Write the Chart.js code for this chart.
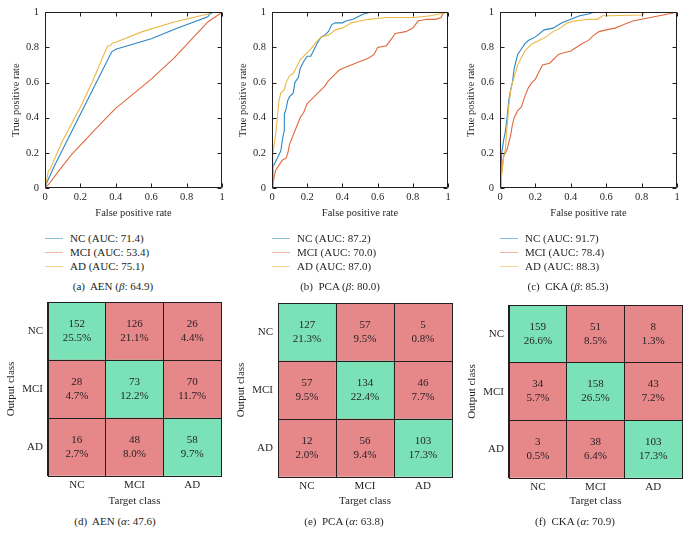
<!DOCTYPE html>
<html>
<head>
<meta charset="utf-8">
<script src="https://cdn.jsdelivr.net/npm/chart.js@4.4.1/dist/chart.umd.min.js"></script>
<style>
body { margin: 0; background: #fff; }
#fig { position: relative; width: 689px; height: 545px; font-family: 'Liberation Serif', serif; color: #231f20; overflow: hidden; }
#fig canvas { position: absolute; }
.cap { position: absolute; width: 200px; text-align: center; font-size: 11px; line-height: 13px; white-space: nowrap; }
.leg { position: absolute; font-size: 11px; line-height: 14px; }
.leg div { position: relative; height: 14px; padding-left: 25px; white-space: nowrap; }
.leg span { position: absolute; left: 0; top: 7px; width: 18px; height: 0; border-top: 1px solid; }
</style>
</head>
<body>
<div id="fig"></div>
<script>

// categories / labels
const classes = ['NC', 'MCI', 'AD'];
const rowTicks = ['', 'AD', 'MCI', 'NC'];
const methods = ['AEN', 'PCA', 'CKA'];
const rocTags = ['(a)', '(b)', '(c)'];
const cmTags = ['(d)', '(e)', '(f)'];
const betaScores = [64.9, 80.0, 85.3];
const alphaScores = [47.6, 63.8, 70.9];

// AUC per class (NC, MCI, AD)
const aenAuc = [71.4, 53.4, 75.1];
const pcaAuc = [87.2, 70.0, 87.0];
const ckaAuc = [91.7, 78.4, 88.3];

// ROC curves, [false positive rate, true positive rate]
const aenNC = [[0,0],[0.01,0.03],[0.05,0.12],[0.15,0.32],[0.27,0.56],[0.377,0.775],[0.40,0.79],[0.60,0.85],[0.75,0.91],[0.92,0.975],[0.93,0.99],[0.95,1],[1,1]];
const aenMCI = [[0,0],[0.02,0.02],[0.08,0.10],[0.15,0.19],[0.28,0.33],[0.40,0.455],[0.42,0.47],[0.60,0.62],[0.73,0.74],[0.85,0.87],[0.92,0.945],[1,1]];
const aenAD = [[0,0],[0.01,0.05],[0.02,0.10],[0.03,0.11],[0.10,0.27],[0.20,0.46],[0.27,0.61],[0.35,0.80],[0.355,0.81],[0.37,0.81],[0.38,0.825],[0.40,0.83],[0.55,0.89],[0.73,0.945],[0.92,0.99],[0.93,1],[1,1]];

const pcaNC = [[0,0],[0.005,0.12],[0.02,0.15],[0.04,0.19],[0.05,0.21],[0.06,0.28],[0.07,0.33],[0.07,0.42],[0.08,0.45],[0.09,0.5],[0.1,0.52],[0.12,0.54],[0.13,0.6],[0.15,0.63],[0.16,0.68],[0.18,0.72],[0.2,0.75],[0.22,0.75],[0.24,0.79],[0.26,0.83],[0.28,0.86],[0.3,0.87],[0.32,0.89],[0.34,0.93],[0.36,0.94],[0.4,0.94],[0.42,0.95],[0.46,0.96],[0.5,0.98],[0.52,0.99],[0.56,1],[0.87,1],[1,1]];
const pcaMCI = [[0,0],[0.01,0.05],[0.02,0.1],[0.04,0.13],[0.06,0.16],[0.08,0.17],[0.09,0.2],[0.1,0.25],[0.12,0.3],[0.14,0.35],[0.16,0.4],[0.18,0.43],[0.2,0.48],[0.22,0.5],[0.25,0.53],[0.28,0.56],[0.3,0.58],[0.32,0.61],[0.35,0.64],[0.38,0.67],[0.4,0.68],[0.45,0.7],[0.5,0.72],[0.55,0.74],[0.58,0.76],[0.6,0.8],[0.65,0.81],[0.68,0.85],[0.7,0.88],[0.76,0.89],[0.8,0.91],[0.83,0.95],[0.88,0.96],[0.93,0.96],[0.96,0.97],[0.97,0.99],[0.98,1],[1,1]];
const pcaAD = [[0,0],[0.005,0.2],[0.02,0.3],[0.03,0.4],[0.04,0.5],[0.05,0.54],[0.07,0.56],[0.08,0.6],[0.1,0.64],[0.12,0.65],[0.14,0.69],[0.16,0.73],[0.19,0.76],[0.22,0.79],[0.25,0.83],[0.28,0.86],[0.32,0.87],[0.36,0.9],[0.4,0.91],[0.45,0.94],[0.5,0.95],[0.55,0.96],[0.6,0.965],[0.65,0.97],[0.8,0.97],[0.85,0.975],[0.9,0.98],[0.95,0.99],[1,1]];

const ckaNC = [[0,0],[0.005,0.1],[0.01,0.2],[0.02,0.27],[0.03,0.32],[0.04,0.4],[0.05,0.5],[0.06,0.56],[0.07,0.6],[0.08,0.68],[0.09,0.72],[0.1,0.76],[0.12,0.79],[0.14,0.82],[0.16,0.84],[0.2,0.86],[0.25,0.9],[0.3,0.91],[0.35,0.94],[0.4,0.96],[0.45,0.98],[0.5,0.99],[0.53,1],[1,1]];
const ckaMCI = [[0,0],[0.01,0.1],[0.02,0.18],[0.03,0.2],[0.04,0.22],[0.05,0.26],[0.06,0.3],[0.07,0.36],[0.08,0.4],[0.1,0.44],[0.12,0.46],[0.14,0.52],[0.16,0.57],[0.18,0.6],[0.2,0.62],[0.22,0.66],[0.24,0.7],[0.28,0.71],[0.3,0.73],[0.33,0.76],[0.36,0.77],[0.4,0.78],[0.43,0.8],[0.46,0.82],[0.5,0.84],[0.53,0.87],[0.56,0.89],[0.6,0.9],[0.65,0.91],[0.7,0.93],[0.75,0.95],[0.8,0.96],[0.85,0.97],[0.9,0.98],[0.95,0.99],[1,1]];
const ckaAD = [[0,0],[0.01,0.08],[0.02,0.17],[0.03,0.22],[0.04,0.35],[0.05,0.47],[0.06,0.55],[0.07,0.6],[0.08,0.63],[0.1,0.7],[0.12,0.74],[0.14,0.78],[0.16,0.8],[0.18,0.82],[0.22,0.84],[0.26,0.86],[0.3,0.89],[0.34,0.91],[0.38,0.94],[0.42,0.95],[0.5,0.96],[0.55,0.96],[0.58,0.98],[0.62,0.98],[0.8,0.985],[0.82,1],[1,1]];

// confusion matrices, rows = output class NC, MCI, AD
const aenCounts = [[152, 126, 26], [28, 73, 70], [16, 48, 58]];
const aenShares = [[25.5, 21.1, 4.4], [4.7, 12.2, 11.7], [2.7, 8.0, 9.7]];
const pcaCounts = [[127, 57, 5], [57, 134, 46], [12, 56, 103]];
const pcaShares = [[21.3, 9.5, 0.8], [9.5, 22.4, 7.7], [2.0, 9.4, 17.3]];
const ckaCounts = [[159, 51, 8], [34, 158, 43], [3, 38, 103]];
const ckaShares = [[26.6, 8.5, 1.3], [5.7, 26.5, 7.2], [0.5, 6.4, 17.3]];

const rocCurves = [[aenNC, aenMCI, aenAD], [pcaNC, pcaMCI, pcaAD], [ckaNC, ckaMCI, ckaAD]];
const rocAucs = [aenAuc, pcaAuc, ckaAuc];
const cmCounts = [aenCounts, pcaCounts, ckaCounts];
const cmShares = [aenShares, pcaShares, ckaShares];

// layout
const rocBox = [[45, 222], [272, 448], [500, 677]];
const cmBox = [[48, 221, 302, 476], [278, 452, 303, 477], [509, 682, 305, 478]];
const rocCaptionX = [113, 340, 568];
const cmCaptionX = [115, 344, 575];

const ink = '#231f20';
const lineColors = ['#2a86c4', '#de6a3c', '#ecb846'];
const legendColors = ['rgba(42,134,196,0.55)', 'rgba(222,106,60,0.5)', 'rgba(236,184,70,0.6)'];
const hitColor = '#7be1b6';
const missColor = '#e6878a';
const fontSmall = { family: 'Liberation Serif', size: 10.5 };
const fontMid = { family: 'Liberation Serif', size: 11 };

const fig = document.getElementById('fig');

const addCanvas = (left, top, width, height) => {
    const c = document.createElement('canvas');
    c.width = width;
    c.height = height;
    c.style.left = left + 'px';
    c.style.top = top + 'px';
    c.style.width = width + 'px';
    c.style.height = height + 'px';
    fig.appendChild(c);
    return c;
}

const addText = (cls, html, left, top) => {
    const d = document.createElement('div');
    d.className = cls;
    d.innerHTML = html;
    d.style.left = left + 'px';
    d.style.top = top + 'px';
    fig.appendChild(d);
    return d;
}

// 0, 0.2, ... 1 without trailing zeros
const rateLabel = v => String(Number(v.toFixed(2)));

// box around the plot with small inward ticks on every side
const frameTicks = {
    id: 'frameTicks',
    afterDatasetsDraw(chart) {
        const { ctx, chartArea: a, scales: { x, y } } = chart;
        const L = Math.round(a.left) + 0.5, R = Math.round(a.right) - 0.5;
        const T = Math.round(a.top) + 0.5, B = Math.round(a.bottom) - 0.5;
        ctx.save();
        ctx.strokeStyle = ink;
        ctx.lineWidth = 1;
        ctx.beginPath();
        x.ticks.forEach(t => {
            const px = Math.round(x.getPixelForValue(t.value)) + 0.5;
            ctx.moveTo(px, B); ctx.lineTo(px, B - 4);
            ctx.moveTo(px, T); ctx.lineTo(px, T + 4);
        });
        y.ticks.forEach(t => {
            const py = Math.round(y.getPixelForValue(t.value)) + 0.5;
            ctx.moveTo(L, py); ctx.lineTo(L + 4, py);
            ctx.moveTo(R, py); ctx.lineTo(R - 4, py);
        });
        ctx.rect(L, T, R - L, B - T);
        ctx.stroke();
        ctx.restore();
    }
};

// count and share written in each confusion cell
const cellText = {
    id: 'cellText',
    afterDatasetsDraw(chart) {
        const ctx = chart.ctx;
        ctx.save();
        ctx.fillStyle = ink;
        ctx.font = '11px "Liberation Serif"';
        ctx.textAlign = 'center';
        ctx.textBaseline = 'middle';
        chart.data.datasets.forEach((ds, i) => {
            chart.getDatasetMeta(i).data.forEach((bar, j) => {
                const cy = (bar.y + bar.base) / 2;
                ctx.fillText(String(ds.counts[j]), bar.x, cy - 7);
                ctx.fillText(ds.shares[j].toFixed(1) + '%', bar.x, cy + 7);
            });
        });
        ctx.restore();
    }
};

const renderRoc = (i) => {
    const [l, r] = rocBox[i];
    const cv = addCanvas(l - 45, 0, r - l + 53, 225);

    new Chart(cv, {
        type: 'scatter',
        data: {
            datasets: rocCurves[i].map((pts, k) => ({
                label: classes[k] + ' (AUC: ' + rocAucs[i][k].toFixed(1) + ')',
                data: pts.map(p => ({ x: p[0], y: p[1] })),
                showLine: true,
                borderColor: lineColors[k],
                backgroundColor: lineColors[k],
                borderWidth: 1.1,
                pointRadius: 0,
                order: 3 - k
            }))
        },
        options: {
            responsive: false,
            animation: false,
            devicePixelRatio: 1,
            layout: { padding: { top: 12, right: 8, left: 0, bottom: 0 } },
            plugins: {
                legend: { display: false },
                tooltip: { enabled: false }
            },
            scales: {
                x: {
                    type: 'linear', min: 0, max: 1,
                    ticks: { stepSize: 0.2, padding: 3, maxRotation: 0, font: fontSmall, color: ink, callback: rateLabel },
                    grid: { display: false, drawTicks: false },
                    border: { display: false },
                    title: { display: true, text: 'False positive rate', font: fontSmall, color: ink, padding: { top: 0, bottom: 5 } },
                    afterFit: s => { s.height = 37 }
                },
                y: {
                    type: 'linear', min: 0, max: 1,
                    ticks: { stepSize: 0.2, padding: 6, font: fontSmall, color: ink, callback: rateLabel },
                    grid: { display: false, drawTicks: false },
                    border: { display: false },
                    title: { display: true, text: 'True positive rate', font: fontSmall, color: ink, padding: { top: 10, bottom: 0 } },
                    afterFit: s => { s.width = 45 }
                }
            }
        },
        plugins: [frameTicks]
    });

    const leg = addText('leg', '', l, 231);
    rocAucs[i].forEach((v, k) => {
        const row = document.createElement('div');
        row.innerHTML = '<span style="border-color:' + legendColors[k] + '"></span>' + classes[k] + ' (AUC: ' + v.toFixed(1) + ')';
        leg.appendChild(row);
    });

    addText('cap', rocTags[i] + '&nbsp; ' + methods[i] + ' (<i>β</i>: ' + betaScores[i].toFixed(1) + ')', rocCaptionX[i] - 100, 280);
}

const renderMatrix = (i) => {
    const [l, r, t, b] = cmBox[i];
    const cv = addCanvas(l - 48, 290, r - l + 53, 222);

    new Chart(cv, {
        type: 'bar',
        data: {
            labels: classes,
            datasets: [2, 1, 0].map(row => ({
                label: classes[row],
                data: classes.map(() => 1),
                backgroundColor: classes.map((c, col) => col === row ? hitColor : missColor),
                counts: cmCounts[i][row],
                shares: cmShares[i][row],
                barPercentage: 1,
                categoryPercentage: 1,
                borderWidth: 0
            }))
        },
        options: {
            responsive: false,
            animation: false,
            devicePixelRatio: 1,
            layout: { padding: { top: t - 290, right: 5, left: 0, bottom: 0 } },
            plugins: {
                legend: { display: false },
                tooltip: { enabled: false }
            },
            scales: {
                x: {
                    stacked: true,
                    offset: true,
                    grid: { offset: true, color: ink, lineWidth: 1, drawTicks: false, z: 1 },
                    border: { color: ink, z: 1 },
                    ticks: { padding: 3, font: fontMid, color: ink },
                    title: { display: true, text: 'Target class', font: fontMid, color: ink, padding: { top: 0, bottom: 4 } },
                    afterFit: s => { s.height = 512 - b }
                },
                y: {
                    stacked: true,
                    min: 0, max: 3,
                    grid: { color: ink, lineWidth: 1, drawTicks: false, z: 1 },
                    border: { color: ink, z: 1 },
                    ticks: { stepSize: 1, labelOffset: 29, padding: 5, font: fontMid, color: ink, callback: v => rowTicks[v] },
                    title: { display: true, text: 'Output class', font: fontMid, color: ink, padding: { top: 5, bottom: 0 } },
                    afterFit: s => { s.width = 48 }
                }
            }
        },
        plugins: [cellText]
    });

    addText('cap', cmTags[i] + '&nbsp; ' + methods[i] + ' (<i>α</i>: ' + alphaScores[i].toFixed(1) + ')', cmCaptionX[i] - 100, 515);
}

[0, 1, 2].forEach(i => renderRoc(i));
[0, 1, 2].forEach(i => renderMatrix(i));

</script>
</body>
</html>
